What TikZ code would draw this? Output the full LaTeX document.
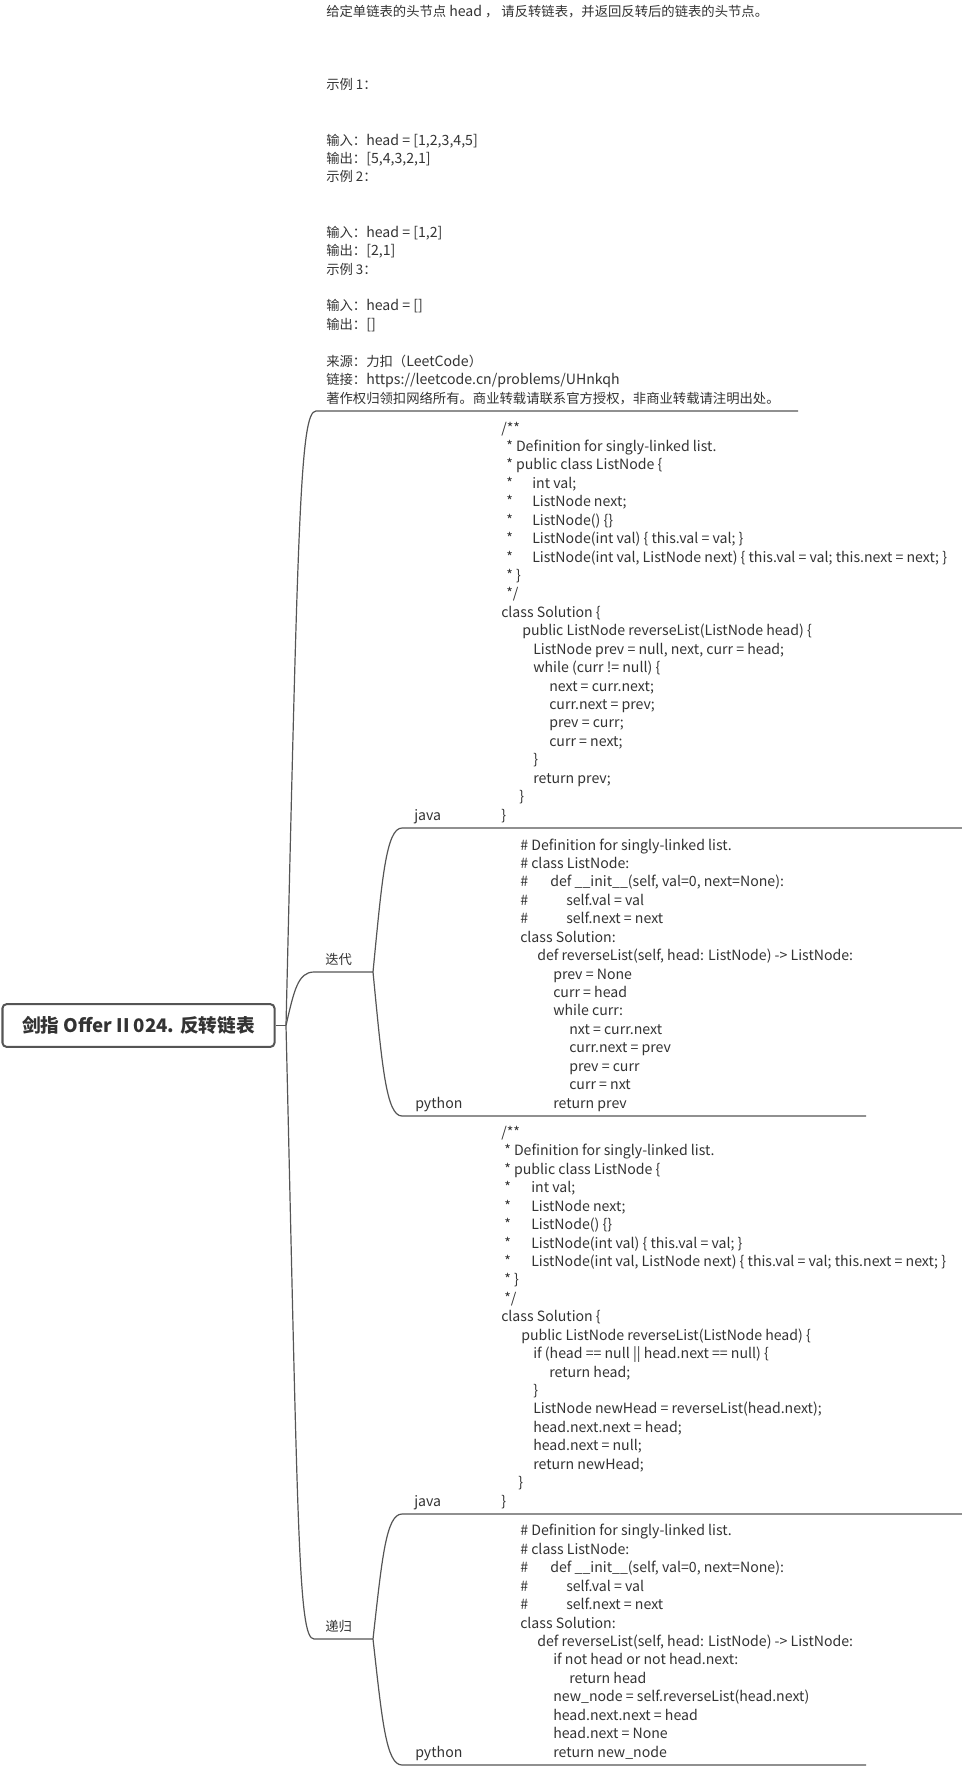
\documentclass[tikz,border=0pt]{standalone}
\usepackage{fontspec}
\setmainfont{Noto Sans CJK SC}
\usetikzlibrary{positioning,calc}
\definecolor{ink}{HTML}{333333}
\definecolor{wire}{HTML}{555555}
\newlength\pxl \setlength\pxl{0.75pt}
\newlength\bl \setlength\bl{13.82pt}
\newcommand\ind[1]{\hspace*{#1\pxl}}
\newcommand\col[2]{\makebox[#1\pxl][l]{#2}}
\newcommand\lat[1]{{\fontsize{10.6}{13.82}\selectfont #1}}

\begin{document}
\begin{tikzpicture}[x=0.75pt,y=-0.75pt,
  conn/.style={draw=wire,line width=0.9pt},
  txt/.style={inner sep=0pt,anchor=base west,align=left,text=ink,font=\fontsize{10}{13.82}\selectfont},
  code/.style={txt,font=\fontsize{10.6}{13.82}\selectfont},
  rootbox/.style={draw=wire,line width=1.5pt,rounded corners=3pt,fill=white,text=ink,
    minimum width=204pt,minimum height=32pt,font=\fontsize{14}{16}\selectfont\bfseries}]
\useasboundingbox (0,0) rectangle (962,1768);

% central topic
\node[rootbox] (root) at (138.5,1025.5) {剑指 Offer II 024. 反转链表};
\coordinate (hub) at (286,1025.5);

% problem text (anchored on its last line)
\node[txt] (desc) at (326,403) {给定单链表的头节点 \lat{head} ， 请反转链表，并返回反转后的链表的头节点。\\[3\bl]
示例 1：\\[2\bl]
输入：\lat{head = [1,2,3,4,5]}\\
输出：\lat{[5,4,3,2,1]}\\
示例 2：\\[2\bl]
输入：\lat{head = [1,2]}\\
输出：\lat{[2,1]}\\
示例 3：\\[\bl]
输入：\lat{head = []}\\
输出：\lat{[]}\\[\bl]
来源：力扣（\lat{LeetCode}）\\
链接：\lat{https://leetcode.cn/problems/UHnkqh}\\
著作权归领扣网络所有。商业转载请联系官方授权，非商业转载请注明出处。};
\coordinate (desc-s) at (316,411); \coordinate (desc-e) at (798,411);

% iterative
\node[txt] (iter) at (325,964) {迭代};
\coordinate (iter-s) at (314,972); \coordinate (iter-e) at (373,972);

\node[code] (ij) at (414,820) {java};
\node[code] (ij-code) at (501,820) {/**\\
\ind{5}* Definition for singly-linked list.\\
\ind{5}* public class ListNode \{\\
\ind{5}\col{26}{*}int val;\\
\ind{5}\col{26}{*}ListNode next;\\
\ind{5}\col{26}{*}ListNode() \{\}\\
\ind{5}\col{26}{*}ListNode(int val) \{ this.val = val; \}\\
\ind{5}\col{26}{*}ListNode(int val, ListNode next) \{ this.val = val; this.next = next; \}\\
\ind{5}* \}\\
\ind{5}*/\\
class Solution \{\\
\ind{21}public ListNode reverseList(ListNode head) \{\\
\ind{32}ListNode prev = null, next, curr = head;\\
\ind{32}while (curr != null) \{\\
\ind{48}next = curr.next;\\
\ind{48}curr.next = prev;\\
\ind{48}prev = curr;\\
\ind{48}curr = next;\\
\ind{32}\}\\
\ind{32}return prev;\\
\ind{18}\}\\
\}};
\coordinate (ij-s) at (402,828); \coordinate (ij-e) at (962,828);

\node[code] (ip) at (415,1108) {python};
\node[code] (ip-code) at (520,1108) {\# Definition for singly-linked list.\\
\# class ListNode:\\
\col{30}{\#}def \_\_init\_\_(self, val=0, next=None):\\
\col{46}{\#}self.val = val\\
\col{46}{\#}self.next = next\\
class Solution:\\
\ind{17}def reverseList(self, head: ListNode) -> ListNode:\\
\ind{33}prev = None\\
\ind{33}curr = head\\
\ind{33}while curr:\\
\ind{49}nxt = curr.next\\
\ind{49}curr.next = prev\\
\ind{49}prev = curr\\
\ind{49}curr = nxt\\
\ind{33}return prev};
\coordinate (ip-s) at (402,1116); \coordinate (ip-e) at (866,1116);

% recursive
\node[txt] (rec) at (325,1631) {递归};
\coordinate (rec-s) at (314,1639); \coordinate (rec-e) at (373,1639);

\node[code] (rj) at (414,1506) {java};
\node[code] (rj-code) at (501,1506) {/**\\
\ind{3}* Definition for singly-linked list.\\
\ind{3}* public class ListNode \{\\
\ind{3}\col{27}{*}int val;\\
\ind{3}\col{27}{*}ListNode next;\\
\ind{3}\col{27}{*}ListNode() \{\}\\
\ind{3}\col{27}{*}ListNode(int val) \{ this.val = val; \}\\
\ind{3}\col{27}{*}ListNode(int val, ListNode next) \{ this.val = val; this.next = next; \}\\
\ind{3}* \}\\
\ind{3}*/\\
class Solution \{\\
\ind{20}public ListNode reverseList(ListNode head) \{\\
\ind{32}if (head == null || head.next == null) \{\\
\ind{48}return head;\\
\ind{32}\}\\
\ind{32}ListNode newHead = reverseList(head.next);\\
\ind{32}head.next.next = head;\\
\ind{32}head.next = null;\\
\ind{32}return newHead;\\
\ind{17}\}\\
\}};
\coordinate (rj-s) at (402,1514); \coordinate (rj-e) at (962,1514);

\node[code] (rp) at (415,1757) {python};
\node[code] (rp-code) at (520,1757) {\# Definition for singly-linked list.\\
\# class ListNode:\\
\col{30}{\#}def \_\_init\_\_(self, val=0, next=None):\\
\col{46}{\#}self.val = val\\
\col{46}{\#}self.next = next\\
class Solution:\\
\ind{17}def reverseList(self, head: ListNode) -> ListNode:\\
\ind{33}if not head or not head.next:\\
\ind{49}return head\\
\ind{33}new\_node = self.reverseList(head.next)\\
\ind{33}head.next.next = head\\
\ind{33}head.next = None\\
\ind{33}return new\_node};
\coordinate (rp-s) at (402,1765); \coordinate (rp-e) at (866,1765);

% branches
\draw[conn] (root.east) -- (hub);
\draw[conn] (hub) .. controls +(12,-504) and +(-16,0) .. (desc-s) -- (desc-e);
\draw[conn] (hub) .. controls +(8,-35) and +(-16,0) .. (iter-s) -- (iter-e);
\draw[conn] (hub) .. controls +(12,503) and +(-16,0) .. (rec-s) -- (rec-e);
\draw[conn] (iter-e) .. controls +(9,-92) and +(-16,0) .. (ij-s) -- (ij-e);
\draw[conn] (iter-e) .. controls +(9,92) and +(-16,0) .. (ip-s) -- (ip-e);
\draw[conn] (rec-e) .. controls +(9,-80) and +(-16,0) .. (rj-s) -- (rj-e);
\draw[conn] (rec-e) .. controls +(9,80) and +(-16,0) .. (rp-s) -- (rp-e);
\end{tikzpicture}
\end{document}
